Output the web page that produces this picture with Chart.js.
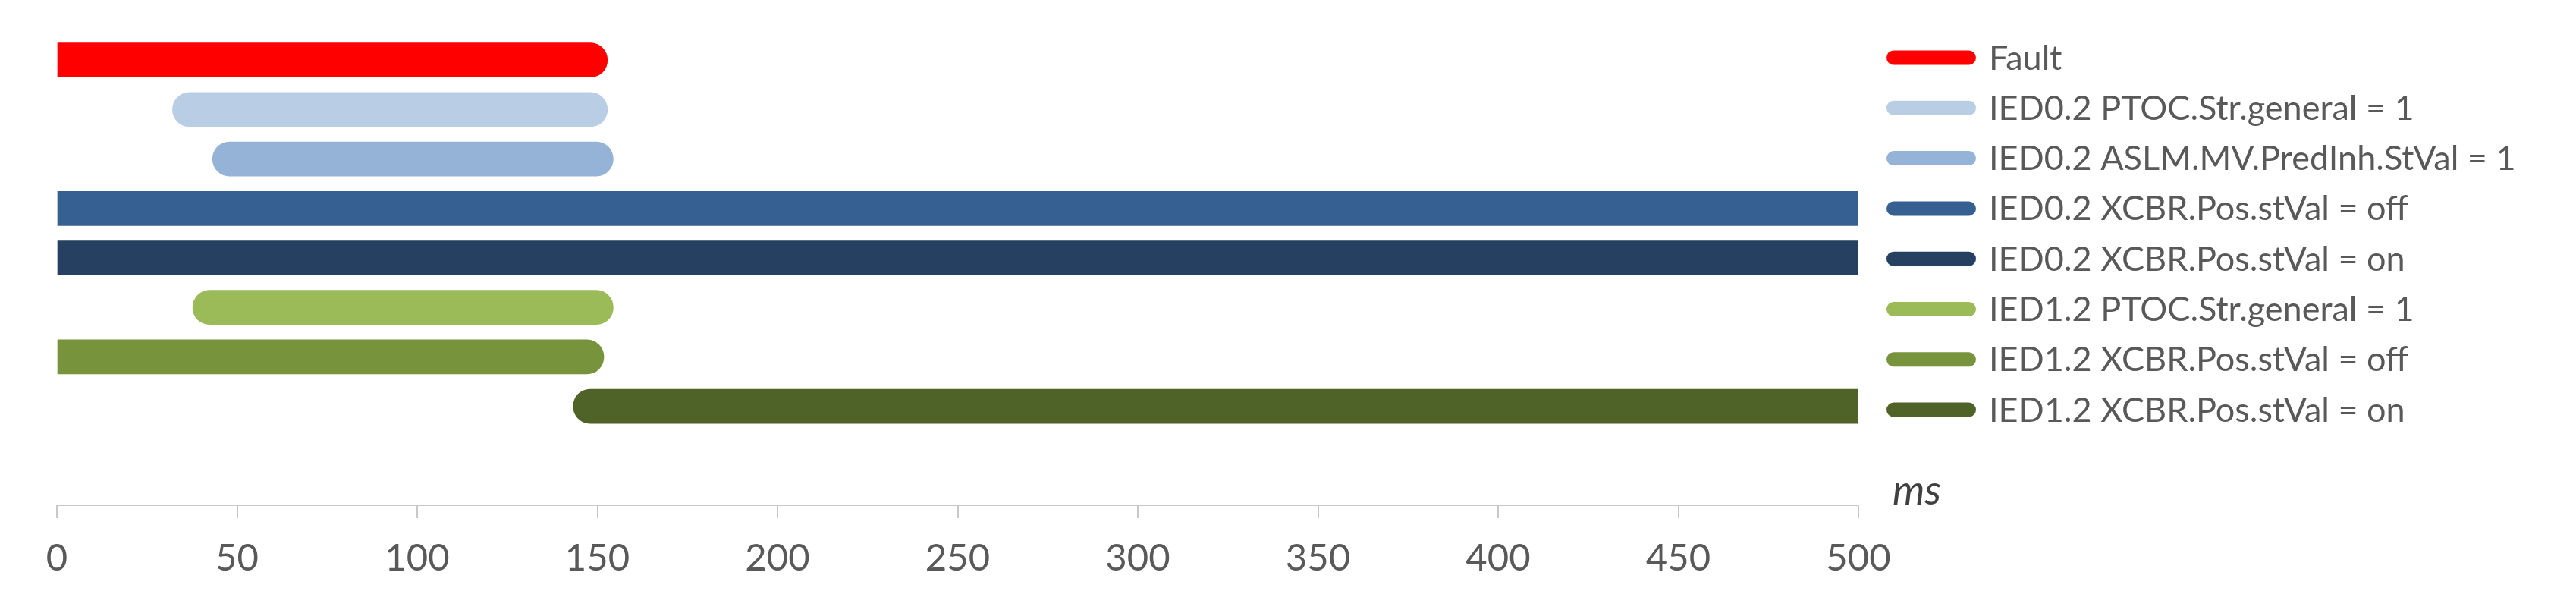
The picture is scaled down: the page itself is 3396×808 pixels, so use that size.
<!DOCTYPE html>
<html>
<head>
<meta charset="utf-8">
<script src="https://cdn.jsdelivr.net/npm/chart.js@4/dist/chart.umd.min.js"></script>
<style>
html,body{margin:0;padding:0;background:#ffffff;}
#wrap{width:3396px;height:808px;position:relative;}
</style>
</head>
<body>
<div id="wrap"><canvas id="c" width="3396" height="808"></canvas></div>
<script>
// ---- data ----
const signals = [
  "Fault",
  "IED0.2 PTOC.Str.general = 1",
  "IED0.2 ASLM.MV.PredInh.StVal = 1",
  "IED0.2 XCBR.Pos.stVal = off",
  "IED0.2 XCBR.Pos.stVal = on",
  "IED1.2 PTOC.Str.general = 1",
  "IED1.2 XCBR.Pos.stVal = off",
  "IED1.2 XCBR.Pos.stVal = on"
];
const startMs = [0, 32.1, 43.2, 0, 0, 37.7, 0, 143.3];
const endMs   = [152.8, 152.8, 154.4, 500, 500, 154.4, 151.8, 500];
const seriesColors = ["#FF0000", "#B9CDE5", "#95B3D7", "#376092", "#254061", "#9BBB59", "#77933C", "#4F6228"];
const xTicks = [0, 50, 100, 150, 200, 250, 300, 350, 400, 450, 500];
const unitLabel = "ms";
const xMin = 0, xMax = 500;

// ---- chart ----
Chart.defaults.font.family = "Lato";

const datasets = signals.map((name, i) => ({
  label: name,
  data: [{ y: i, x: [startMs[i], endMs[i]] }],
  backgroundColor: seriesColors[i],
  borderWidth: 0,
  borderSkipped: false,
  barThickness: 45,
  grouped: false,
  borderRadius: (ctx) => {
    const raw = ctx.raw;
    if (!raw) return 0;
    const r = 40;
    const l = raw.x[0] > xMin ? r : 0;
    const rr = raw.x[1] < xMax ? r : 0;
    return { topLeft: l, bottomLeft: l, topRight: rr, bottomRight: rr };
  }
}));

const sideLegend = {
  id: "sideLegend",
  afterDraw(chart) {
    const ctx = chart.ctx;
    chart.data.datasets.forEach((ds, i) => {
      const cy = 76 + 66.3 * i;
      ctx.save();
      ctx.strokeStyle = ds.backgroundColor;
      ctx.lineWidth = 19;
      ctx.lineCap = "round";
      ctx.beginPath();
      ctx.moveTo(2487 + 9.5, cy);
      ctx.lineTo(2605 - 9.5, cy);
      ctx.stroke();
      ctx.fillStyle = "#595959";
      ctx.font = "45px Lato";
      ctx.textBaseline = "middle";
      ctx.textAlign = "left";
      ctx.fillText(ds.label, 2622, cy + 1);
      ctx.restore();
    });
    // axis unit
    ctx.save();
    ctx.fillStyle = "#404040";
    ctx.font = "italic 54px Lato";
    ctx.textBaseline = "alphabetic";
    ctx.textAlign = "left";
    ctx.fillText(unitLabel, 2495, 665);
    ctx.restore();
  }
};

new Chart(document.getElementById("c"), {
  type: "bar",
  data: { datasets },
  options: {
    indexAxis: "y",
    responsive: false,
    animation: false,
    devicePixelRatio: 1,
    layout: { padding: { left: 75, right: 946, top: 14, bottom: 0 } },
    plugins: {
      legend: { display: false },
      tooltip: { enabled: false },
      title: { display: false }
    },
    scales: {
      y: {
        type: "linear",
        min: -1,
        max: 9,
        reverse: true,
        offset: false,
        grid: { offset: false },
        display: false
      },
      x: {
        type: "linear",
        position: "bottom",
        min: xMin,
        max: xMax,
        offset: false,
        afterBuildTicks: (scale) => { scale.ticks = xTicks.map(v => ({ value: v })); },
        afterFit: (scale) => { scale.height = 142; },
        grid: {
          drawOnChartArea: false,
          drawTicks: true,
          tickLength: 17,
          color: "#C8C8C8",
          lineWidth: 2
        },
        border: { display: true, color: "#C8C8C8", width: 2 },
        ticks: {
          color: "#595959",
          font: { family: "Lato", size: 49 },
          padding: 24,
          maxRotation: 0,
          autoSkip: false
        }
      }
    }
  },
  plugins: [sideLegend]
});
</script>
</body>
</html>
